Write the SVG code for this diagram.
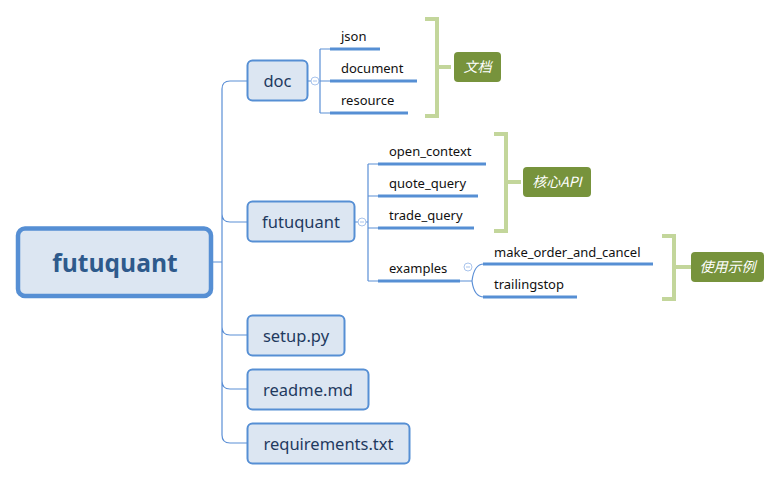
<svg xmlns="http://www.w3.org/2000/svg" width="780" height="481" viewBox="0 0 780 481">
<style>
.conn{fill:none;stroke:#5B8FD6;stroke-width:1.2}
.ul{stroke:#568FD4;stroke-width:3}
.main rect{fill:#DCE6F2;stroke:#568FD4;stroke-width:2}
.main text{font-family:"Noto Sans","Open Sans",sans-serif;font-size:16.5px;fill:#1F3A5F;text-anchor:middle}
.sub{font-family:"Noto Sans","Open Sans",sans-serif;font-size:13px;fill:#111}
.br{fill:none;stroke:#C3D69B;stroke-width:4}
.lbl rect{fill:#77933C}
.lbl text{font-family:"Noto Sans CJK SC","Noto Sans",sans-serif;font-size:14px;font-style:italic;fill:#fff;text-anchor:middle}
.col{fill:#fff;stroke:#A9C4EC;stroke-width:1}
</style>
<rect width="780" height="481" fill="#fff"/>
<g id="connectors">
<path class="conn" d="M213,262 H222 M247,81 H230 Q222,81 222,89 V435 Q222,443 230,443 H247 M222,214 Q222,222 230,222 H247 M222,327 Q222,335 230,335 H247 M222,381 Q222,389 230,389 H247"/>
<path class="conn" d="M307,81 H320 M320,49 V113 M320,49 H330 M320,81 H330 M320,113 H330"/>
<path class="conn" d="M355,222 H368 M368,164 V281 M368,164 H378 M368,196 H378 M368,228 H378 M368,281 H378"/>
<path class="conn" d="M460,281 H472 Q474,264 484,264 M472,281 Q474,297 484,297"/>
<line class="ul" x1="330" y1="49" x2="380" y2="49"/>
<line class="ul" x1="330" y1="81" x2="417" y2="81"/>
<line class="ul" x1="330" y1="113" x2="408" y2="113"/>
<line class="ul" x1="378" y1="164" x2="486" y2="164"/>
<line class="ul" x1="378" y1="196" x2="478" y2="196"/>
<line class="ul" x1="378" y1="228" x2="474" y2="228"/>
<line class="ul" x1="378" y1="281" x2="460" y2="281"/>
<line class="ul" x1="483" y1="264" x2="653" y2="264"/>
<line class="ul" x1="483" y1="297" x2="577" y2="297"/>
<circle class="col" cx="315" cy="81" r="4"/><line x1="313" y1="81" x2="317" y2="81" stroke="#A9C4EC"/>
<circle class="col" cx="362" cy="222" r="4"/><line x1="360" y1="222" x2="364" y2="222" stroke="#A9C4EC"/>
<circle class="col" cx="468" cy="267" r="4"/><line x1="466" y1="267" x2="470" y2="267" stroke="#A9C4EC"/>
</g>
<g id="root"><rect x="18" y="228.5" width="193" height="67.5" rx="7" fill="#DCE6F2" stroke="#568FD4" stroke-width="4.5"/>
<text x="115" y="271.5" font-family="'Open Sans','Noto Sans',sans-serif" font-weight="bold" font-size="24.5" fill="#2E5A8C" text-anchor="middle">futuquant</text></g>
<g id="doc" class="main"><rect x="247.5" y="60.5" width="60" height="40" rx="5"/><text x="277.5" y="86.5">doc</text></g>
<g id="futuquant" class="main"><rect x="247.5" y="201.5" width="107" height="40" rx="5"/><text x="301" y="227.5">futuquant</text></g>
<g id="setup" class="main"><rect x="247.5" y="315.5" width="97" height="40" rx="5"/><text x="296" y="341.5">setup.py</text></g>
<g id="readme" class="main"><rect x="247.5" y="369.5" width="121" height="40" rx="5"/><text x="308" y="395.5">readme.md</text></g>
<g id="requirements" class="main"><rect x="247.5" y="423.5" width="162" height="40" rx="5"/><text x="328.5" y="449.5">requirements.txt</text></g>
<g id="json"><text class="sub" x="341" y="41">json</text></g>
<g id="document"><text class="sub" x="341" y="73">document</text></g>
<g id="resource"><text class="sub" x="341" y="105">resource</text></g>
<g id="open_context"><text class="sub" x="389" y="156">open_context</text></g>
<g id="quote_query"><text class="sub" x="389" y="188">quote_query</text></g>
<g id="trade_query"><text class="sub" x="389" y="220">trade_query</text></g>
<g id="examples"><text class="sub" x="389" y="273">examples</text></g>
<g id="make_order_and_cancel"><text class="sub" x="494" y="257">make_order_and_cancel</text></g>
<g id="trailingstop"><text class="sub" x="494" y="289">trailingstop</text></g>
<g id="brackets">
<path class="br" d="M425,19 H437 V116 H425 M437,67 H451"/>
<path class="br" d="M494,134 H506 V231 H494 M506,182 H521"/>
<path class="br" d="M662,236 H674 V299 H662 M674,267 H691"/>
</g>
<g id="label-doc" class="lbl"><rect x="454" y="52" width="47" height="30" rx="4"/><text x="477.5" y="72">文档</text></g>
<g id="label-api" class="lbl"><rect x="523" y="167" width="68" height="30" rx="4"/><text x="557" y="187">核心API</text></g>
<g id="label-examples" class="lbl"><rect x="691" y="252" width="73" height="30" rx="4"/><text x="727.5" y="272">使用示例</text></g>
</svg>
